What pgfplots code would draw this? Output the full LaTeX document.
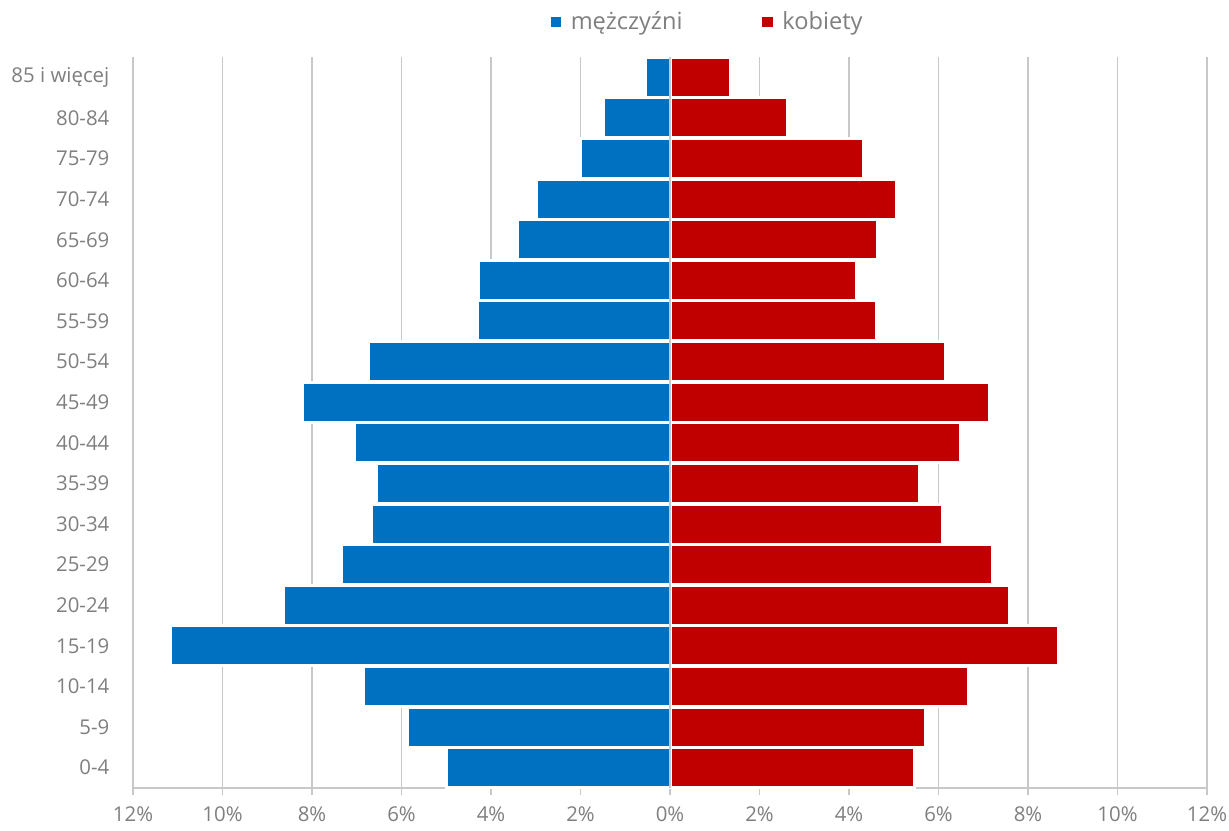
\documentclass[border=0pt]{standalone}
\usepackage{pgfplots}
\pgfplotsset{compat=1.18}
\usepackage{fontspec}
\setmainfont{Open Sans}
\definecolor{men}{HTML}{0070C0}
\definecolor{women}{HTML}{C00000}
\definecolor{gridgray}{HTML}{C8C8C8}
\definecolor{txtgray}{HTML}{7F7F7F}
\begin{document}
\begin{tikzpicture}
  % frame with the reference's proportions (1 px = 0.5 pt)
  \useasboundingbox (-66.5pt,-21pt) rectangle (548pt,394pt);
  \begin{axis}[
    at={(0,0)}, anchor=south west,
    scale only axis,
    width=537pt, height=365.5pt,
    xmin=-12, xmax=12,
    ymin=-0.5, ymax=17.5,
    xbar, bar shift=0pt, bar width=20pt,
    axis x line*=bottom, axis y line*=left,
    y axis line style={draw=none},
    x axis line style={draw=gridgray, line width=0.8pt},
    xmajorgrids, grid style={gridgray, line width=0.6pt},
    xtick={-12,-10,...,12},
    xticklabels={12\%,10\%,8\%,6\%,4\%,2\%,0\%,2\%,4\%,6\%,8\%,10\%,12\%},
    xtick style={draw=gridgray, line width=0.6pt},
    tick align=outside, major tick length=3.5pt,
    ytick={0,...,17},
    yticklabels={0-4,5-9,10-14,15-19,20-24,25-29,30-34,35-39,40-44,45-49,
      50-54,55-59,60-64,65-69,70-74,75-79,80-84,85 i więcej},
    ytick style={draw=none},
    ticklabel style={font=\fontsize{10.2}{12}\selectfont, text=txtgray},
    yticklabel style={xshift=-4.8pt},
    xticklabel style={yshift=-4.5pt, inner sep=1pt},
    legend style={draw=none, at={(0.536,1.048)}, anchor=center,
      font=\fontsize{11.8}{14}\selectfont, text=txtgray,
      legend columns=2,
      /tikz/every even column/.append style={column sep=38pt}},
    legend image code/.code={%
      \path[draw=none, fill=none] (0pt,-2.6pt) rectangle (8pt,2.6pt);
      \fill[#1, draw=none, line width=0pt] (0pt,-2.6pt) rectangle (5.2pt,2.6pt);},
  ]
  \addplot[fill=men, draw=white, line width=1.5pt] coordinates {
    (-4.99,0) (-5.86,1) (-6.85,2) (-11.16,3) (-8.64,4) (-7.35,5)
    (-6.68,6) (-6.55,7) (-7.05,8) (-8.22,9) (-6.74,10) (-4.30,11)
    (-4.27,12) (-3.40,13) (-2.99,14) (-1.99,15) (-1.49,16) (-0.55,17)
  };
  \addlegendentry{mężczyźni}
  \addplot[fill=women, draw=white, line width=1.5pt] coordinates {
    (5.47,0) (5.70,1) (6.68,2) (8.69,3) (7.58,4) (7.20,5)
    (6.09,6) (5.58,7) (6.50,8) (7.13,9) (6.15,10) (4.62,11)
    (4.17,12) (4.64,13) (5.07,14) (4.32,15) (2.62,16) (1.35,17)
  };
  \addlegendentry{kobiety}
  % zero grid line shows through the gap between the two sides
  \draw[gridgray, line width=0.6pt] (axis cs:0,-0.5) -- (axis cs:0,17.5);
  \end{axis}
\end{tikzpicture}
\end{document}
